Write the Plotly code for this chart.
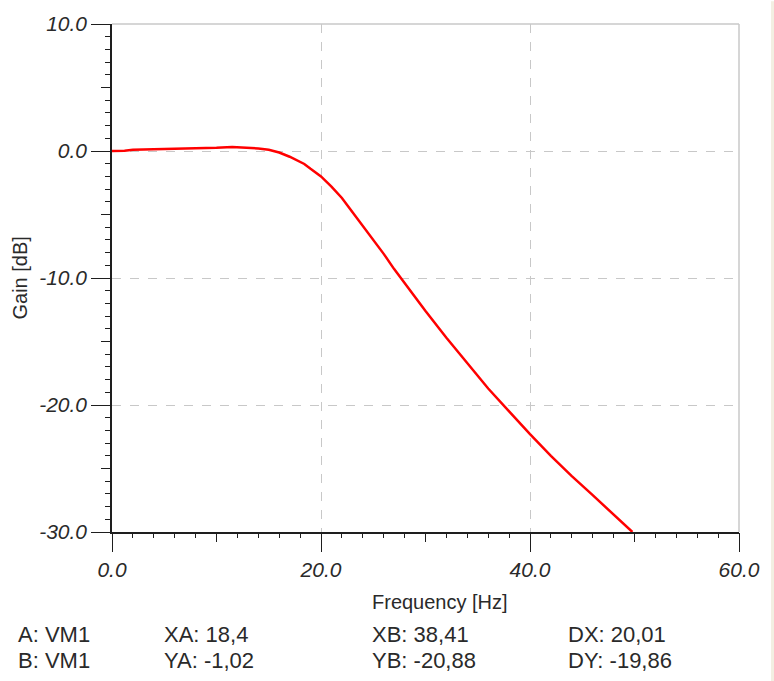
import plotly.graph_objects as go

# ---- data ----
freq_hz = [0, 1.2, 2, 4, 6, 8, 10, 11.5, 13, 14, 15, 16, 17, 18, 18.4, 19, 20,
           21, 22, 23, 24, 25, 26, 27, 28, 30, 32, 34, 36, 38, 38.41, 40, 42,
           44, 46, 48, 49.8]
gain_db = [0.0, 0.02, 0.1, 0.13, 0.16, 0.22, 0.26, 0.32, 0.27, 0.2, 0.1, -0.12,
           -0.45, -0.85, -1.02, -1.4, -2.0, -2.8, -3.7, -4.8, -5.9, -7.0, -8.1,
           -9.3, -10.4, -12.6, -14.7, -16.7, -18.7, -20.5, -20.88, -22.3, -24.0,
           -25.6, -27.1, -28.6, -30.0]

x_tickvals = [0, 20, 40, 60]
x_ticktext = ["0.0", "20.0", "40.0", "60.0"]
y_tickvals = [-30, -20, -10, 0, 10]
y_ticktext = ["-30.0", "-20.0", "-10.0", "0.0", "10.0"]

x_title = "Frequency [Hz]"
y_title = "Gain [dB]"

readout_row1 = ["A: VM1", "XA: 18,4", "XB: 38,41", "DX: 20,01"]
readout_row2 = ["B: VM1", "YA: -1,02", "YB: -20,88", "DY: -19,86"]

# ---- layout geometry (pixels) ----
W, H = 774, 681
L, R, T, B = 112, 35, 21, 149
PW = W - L - R
PH = H - T - B


def px_to_paper_x(px):
    return (px - L) / PW


def px_to_paper_y(py):
    return (H - B - py) / PH


axis_col = "#1e1e1e"
grid_col = "#c8c8c8"
tick_font = dict(family="Liberation Sans, Arial, sans-serif", size=21,
                 color="#2a2a2a", style="italic")
title_font = dict(family="Liberation Sans, Arial, sans-serif", size=20,
                  color="#2a2a2a")
readout_font = dict(family="Liberation Sans, Arial, sans-serif", size=22,
                    color="#2a2a2a")

fig = go.Figure()
fig.add_trace(go.Scatter(x=freq_hz, y=gain_db, mode="lines",
                         line=dict(color="#ff0000", width=2.5),
                         showlegend=False, hoverinfo="skip"))
# empty trace so the medium-tick overlay axes are drawn
fig.add_trace(go.Scatter(x=[], y=[], xaxis="x2", yaxis="y2",
                         showlegend=False, hoverinfo="skip"))

fig.update_layout(
    width=W, height=H, autosize=False,
    margin=dict(l=L, r=R, t=T, b=B, pad=0),
    paper_bgcolor="#ffffff", plot_bgcolor="#ffffff",
    xaxis=dict(
        range=[0, 60], tickmode="array", tickvals=x_tickvals,
        ticktext=x_ticktext, ticks="outside", ticklen=18, tickwidth=1,
        tickcolor=axis_col, showline=True, linecolor=axis_col, linewidth=1.5,
        showgrid=True, gridcolor=grid_col, griddash="dash", gridwidth=1,
        zeroline=False, tickfont=tick_font, fixedrange=True,
        minor=dict(tickmode="linear", tick0=0, dtick=2, ticks="outside",
                   ticklen=4, tickwidth=1, tickcolor=axis_col, showgrid=False),
    ),
    xaxis2=dict(
        overlaying="x", anchor="y2", side="bottom", range=[0, 60],
        tickmode="linear", tick0=0, dtick=10, ticks="outside", ticklen=9,
        tickwidth=1, tickcolor=axis_col, showticklabels=False,
        showgrid=False, showline=False, zeroline=False, fixedrange=True,
    ),
    yaxis=dict(
        range=[-30, 10], tickmode="array", tickvals=y_tickvals,
        ticktext=y_ticktext, ticks="outside", ticklen=19, tickwidth=1,
        tickcolor=axis_col, showline=True, linecolor=axis_col, linewidth=1.5,
        showgrid=True, gridcolor=grid_col, griddash="dash", gridwidth=1,
        zeroline=False, tickfont=tick_font, fixedrange=True,
        minor=dict(tickmode="linear", tick0=0, dtick=1, ticks="outside",
                   ticklen=5, tickwidth=1, tickcolor=axis_col, showgrid=False),
    ),
    yaxis2=dict(
        overlaying="y", anchor="x2", side="left", range=[-30, 10],
        tickmode="linear", tick0=0, dtick=5, ticks="outside", ticklen=10,
        tickwidth=1, tickcolor=axis_col, showticklabels=False,
        showgrid=False, showline=False, zeroline=False, fixedrange=True,
    ),
    shapes=[
        dict(type="line", xref="paper", yref="paper", x0=0, x1=1, y0=1, y1=1,
             line=dict(color=grid_col, width=1.5)),
        dict(type="line", xref="paper", yref="paper", x0=1, x1=1, y0=0, y1=1,
             line=dict(color=grid_col, width=1.5)),
        dict(type="rect", xref="paper", yref="paper",
             x0=px_to_paper_x(771), x1=px_to_paper_x(775),
             y0=px_to_paper_y(H + 2), y1=px_to_paper_y(-2),
             fillcolor="#f3efe2", line=dict(width=0)),
    ],
)

annotations = [
    dict(text=x_title, xref="paper", yref="paper",
         x=px_to_paper_x(440), y=px_to_paper_y(602),
         xanchor="center", yanchor="middle", showarrow=False, font=title_font),
    dict(text=y_title, xref="paper", yref="paper",
         x=px_to_paper_x(19.5), y=px_to_paper_y(276.5), textangle=-90,
         xanchor="center", yanchor="middle", showarrow=False, font=title_font),
]
col_x = [17, 163, 371, 567]
for row_texts, row_y in ((readout_row1, 635), (readout_row2, 661)):
    for txt, cx in zip(row_texts, col_x):
        annotations.append(dict(text=txt, xref="paper", yref="paper",
                                x=px_to_paper_x(cx), y=px_to_paper_y(row_y),
                                xanchor="left", yanchor="middle",
                                showarrow=False, font=readout_font,
                                borderpad=0))
fig.update_layout(annotations=annotations)

fig.write_html("out.html",
               config={"displayModeBar": False},
               post_script="document.body.style.margin='0';"
                           "document.body.style.overflow='hidden';")
